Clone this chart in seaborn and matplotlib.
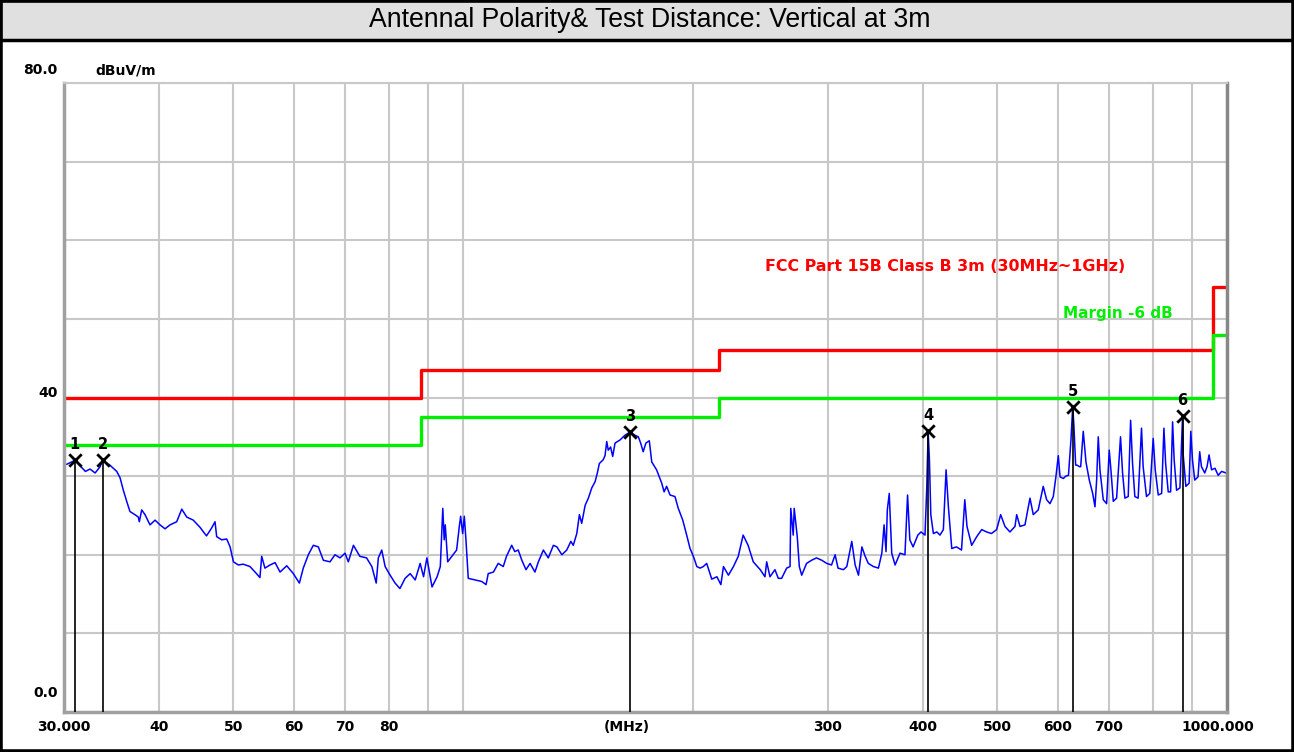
import matplotlib
matplotlib.use("Agg")
import matplotlib.pyplot as plt
import matplotlib.transforms as mtransforms
from matplotlib.patches import Rectangle
from matplotlib.ticker import NullFormatter
import numpy as np
import pandas as pd
import seaborn as sns

freq_mhz = [
    30.24, 31.0, 31.5, 32.0, 32.45, 32.95, 33.45, 33.7, 34.45, 35.17, 35.52, 35.88, 36.24, 36.6,
    37.15, 37.53, 37.65, 37.92, 38.3, 38.88, 39.48, 40.07, 40.68, 41.3, 42.14, 42.79, 43.43, 44.3,
    45.2, 46.1, 46.82, 47.3, 47.54, 48.26, 49.0, 49.5, 50.0, 50.75, 51.5, 52.56, 53.6, 54.16,
    54.45, 54.98, 55.83, 56.69, 57.55, 58.72, 59.9, 61.0, 61.72, 62.67, 63.62, 64.59, 65.57, 66.9,
    67.92, 68.95, 70.0, 70.7, 71.8, 73.2, 74.7, 75.9, 76.9, 77.4, 78.2, 79.0, 80.2, 81.4,
    82.6, 83.9, 85.2, 86.5, 87.8, 88.7, 89.6, 91.0, 92.4, 93.3, 94.0, 94.4, 94.7, 95.4,
    96.6, 98.0, 98.8, 99.2, 99.8, 100.3, 100.8, 101.5, 103.6, 105.7, 107.1, 107.8, 109.5, 111.1,
    112.8, 113.9, 115.7, 116.8, 118.0, 119.3, 120.8, 122.3, 124.1, 125.4, 127.3, 129.2, 131.2, 132.6,
    134.6, 136.6, 138.3, 139.3, 140.8, 141.9, 142.9, 144.4, 145.8, 147.3, 148.8, 149.8, 150.7, 152.5,
    153.3, 154.1, 154.8, 155.9, 156.9, 158.0, 160.4, 162.8, 165.3, 167.8, 169.5, 170.7, 172.0, 173.4,
    175.2, 176.5, 179.1, 181.9, 183.2, 184.6, 186.5, 189.3, 191.2, 193.8, 196.1, 198.1, 200.1, 202.2,
    204.2, 206.2, 208.3, 211.5, 214.8, 217.4, 219.1, 222.4, 225.8, 229.1, 232.5, 236.0, 239.7, 244.8,
    248.3, 249.6, 252.1, 255.9, 258.5, 261.1, 265.1, 267.8, 268.4, 270.4, 271.2, 273.7, 275.4, 277.4,
    281.5, 285.8, 290.0, 294.7, 299.1, 303.5, 306.8, 309.5, 314.6, 317.8, 322.6, 325.9, 329.2, 332.6,
    335.9, 339.1, 344.3, 349.6, 353.2, 355.6, 357.7, 359.1, 361.2, 363.9, 367.6, 373.1, 378.7, 381.7,
    384.3, 388.1, 393.7, 397.5, 402.3, 404.5, 406.1, 407.7, 409.4, 412.6, 416.9, 420.9, 425.2, 428.7,
    431.7, 436.1, 442.4, 449.1, 453.6, 456.6, 463.1, 470.2, 477.3, 484.4, 491.6, 499.3, 505.4, 512.0,
    519.7, 527.7, 530.4, 535.7, 543.8, 552.1, 557.6, 566.0, 574.6, 580.5, 586.4, 592.3, 597.3, 601.3,
    604.5, 610.6, 615.0, 620.0, 624.7, 628.0, 630.2, 633.6, 636.1, 641.1, 643.3, 648.3, 653.6, 660.2,
    667.0, 671.6, 675.0, 678.3, 681.8, 688.6, 695.6, 701.1, 704.7, 709.7, 716.9, 725.4, 729.9, 735.0,
    742.4, 747.8, 752.2, 757.4, 765.0, 772.8, 776.6, 784.5, 792.3, 800.5, 805.4, 812.8, 821.1, 826.8,
    831.1, 837.6, 843.7, 848.7, 852.7, 858.9, 867.7, 874.6, 876.3, 883.3, 892.1, 896.6, 901.1, 907.3,
    916.3, 921.0, 925.9, 935.1, 941.6, 947.3, 954.6, 964.4, 973.8, 983.9, 997.4,
]
level_dbuv = [
    31.5, 32.0, 31.3, 30.6, 30.9, 30.4, 31.2, 32.0, 31.4, 30.6, 29.8, 28.2, 26.8, 25.5,
    25.1, 24.8, 24.2, 25.7, 25.1, 23.8, 24.4, 23.8, 23.3, 23.8, 24.2, 25.8, 24.8, 24.4,
    23.5, 22.4, 23.4, 24.2, 22.3, 21.9, 22.0, 21.0, 19.1, 18.7, 18.8, 18.5, 17.6, 17.1,
    19.8, 18.3, 18.7, 19.0, 17.8, 18.6, 17.6, 16.4, 18.3, 20.0, 21.2, 21.0, 19.3, 19.1,
    20.0, 19.6, 20.2, 19.1, 21.2, 19.8, 19.6, 18.5, 16.4, 19.6, 20.6, 18.5, 17.4, 16.4,
    15.7, 17.0, 17.6, 16.8, 18.9, 17.2, 19.6, 15.9, 17.2, 18.5, 25.9, 21.9, 23.8, 19.1,
    19.8, 20.6, 23.6, 24.9, 22.7, 24.9, 21.9, 17.0, 16.8, 16.6, 16.2, 17.6, 17.8, 18.9,
    18.5, 19.8, 21.2, 20.4, 20.6, 19.3, 18.1, 18.9, 17.8, 19.1, 20.6, 19.6, 21.2, 21.0,
    20.0, 20.6, 21.7, 21.2, 22.7, 25.1, 24.0, 26.3, 27.2, 28.5, 29.3, 30.4, 31.6, 32.1,
    32.6, 34.4, 33.3, 33.7, 32.5, 34.2, 34.6, 35.2, 35.6, 35.2, 35.0, 34.2, 33.1, 34.2,
    34.5, 31.8, 30.8, 29.1, 28.0, 28.7, 27.6, 27.4, 25.9, 24.4, 22.5, 20.8, 19.8, 18.5,
    18.3, 18.5, 18.9, 16.9, 17.2, 16.2, 18.5, 17.4, 18.5, 19.8, 22.5, 21.2, 19.1, 18.1,
    17.2, 19.1, 17.2, 18.1, 17.0, 17.0, 18.3, 18.5, 25.9, 22.5, 25.9, 22.3, 18.5, 17.4,
    18.9, 19.3, 19.6, 19.3, 18.9, 18.7, 20.0, 18.3, 18.1, 18.5, 21.7, 18.7, 17.4, 21.0,
    19.8, 18.9, 18.5, 18.3, 20.2, 23.8, 20.4, 25.7, 27.8, 20.2, 18.7, 20.2, 20.0, 27.6,
    21.9, 21.0, 22.5, 22.9, 22.5, 28.7, 35.7, 32.1, 25.1, 22.7, 22.9, 22.5, 23.2, 30.8,
    26.1, 20.8, 21.0, 20.6, 27.0, 23.6, 21.2, 22.3, 23.2, 22.9, 22.7, 23.2, 25.1, 23.6,
    22.9, 23.6, 25.1, 23.6, 23.8, 27.2, 25.1, 25.7, 28.7, 27.0, 26.5, 27.4, 30.1, 32.6,
    29.9, 29.7, 30.0, 30.1, 34.6, 38.8, 36.5, 31.4, 31.4, 31.2, 31.2, 35.7, 31.8, 29.5,
    27.8, 26.1, 29.5, 35.0, 30.8, 27.0, 26.5, 33.3, 30.8, 26.8, 27.2, 35.0, 30.4, 27.2,
    27.4, 37.1, 31.6, 27.4, 27.2, 36.1, 31.2, 27.4, 27.8, 34.8, 30.8, 27.6, 27.8, 36.1,
    31.6, 28.0, 28.0, 36.9, 32.1, 28.2, 28.5, 37.6, 32.7, 28.7, 29.1, 35.7, 32.1, 29.5,
    29.9, 33.1, 31.2, 30.4, 31.2, 32.7, 30.8, 31.0, 30.1, 30.6, 30.4,
]

# ---- FCC Part 15B class B (3 m) limit and -6 dB margin ----
limit_freq = [30, 88, 216, 960, 1000]
limit_class_b = [40, 43.5, 46, 54, 54]
limit_margin = [34, 37.5, 40, 48, 48]

# ---- peak markers ----
marker_id = ["1", "2", "3", "4", "5", "6"]
marker_freq = [31.0, 33.7, 165.3, 406.1, 628.0, 874.6]
marker_level = [32.0, 32.0, 35.6, 35.7, 38.8, 37.6]

# ---- axis ticks ----
xtick_vals = [30, 40, 50, 60, 70, 80, 300, 400, 500, 600, 700, 1000]
xtick_labels = ["30.000", "40", "50", "60", "70", "80", "300", "400", "500", "600", "700", "1000.000"]
xgrid_vals = [90, 100, 200, 800, 900]

trace = pd.DataFrame({"freq": freq_mhz, "level": level_dbuv})
limits = pd.DataFrame({"freq": limit_freq, "limit": limit_class_b, "margin": limit_margin})
markers = pd.DataFrame({"freq": marker_freq, "level": marker_level, "id": marker_id})

sns.set_style("white")
plt.rcParams["font.family"] = ["DejaVu Sans"]
plt.rcParams["text.color"] = "black"
plt.rcParams["xtick.color"] = "black"
plt.rcParams["ytick.color"] = "black"

W, H = 1294, 752
fig = plt.figure(figsize=(W / 100, H / 100), dpi=100)
ax = fig.add_axes([64 / W, 1 - 712 / H, (1227 - 64) / W, (712 - 83) / H])
ax.set_xscale("log")

# data
sns.lineplot(data=limits, x="freq", y="limit", ax=ax, color="#ff0000", lw=2.4,
             drawstyle="steps-post", errorbar=None)
sns.lineplot(data=limits, x="freq", y="margin", ax=ax, color="#00ee00", lw=2.4,
             drawstyle="steps-post", errorbar=None)
sns.lineplot(data=trace, x="freq", y="level", ax=ax, color="#0000ff", lw=1.1, errorbar=None)

ax.vlines(markers["freq"], 0, markers["level"], color="black", lw=1.2, zorder=4)
sns.scatterplot(data=markers, x="freq", y="level", ax=ax, marker="x", s=80,
                color="black", linewidth=2, zorder=5)
for _, r in markers.iterrows():
    ax.annotate(r["id"], (r["freq"], r["level"]), xytext=(0, 6), textcoords="offset points",
                ha="center", va="bottom", fontsize=10.5, fontweight="bold", color="black")

ax.set_xlim(30, 1000)
ax.set_ylim(0, 80)
ax.set_xlabel("")
ax.set_ylabel("")

# ticks and grid
ax.set_xticks(xtick_vals)
ax.set_xticklabels(xtick_labels, fontsize=10, fontweight="bold")
ax.set_xticks(xgrid_vals, minor=True)
ax.xaxis.set_minor_formatter(NullFormatter())
ax.set_yticks(range(0, 81, 10))
ax.set_yticklabels([])
ax.grid(which="both", axis="x", color="#c8c8c8", lw=1.5)
ax.grid(which="major", axis="y", color="#c8c8c8", lw=1.5)
ax.set_axisbelow(True)
ax.tick_params(axis="both", which="both", length=0, pad=6)
last = ax.get_xticklabels()[-1]
last.set_transform(last.get_transform() + mtransforms.ScaledTranslation(-0.09, 0, fig.dpi_scale_trans))
ax.text(0.484, -0.0125, "(MHz)", transform=ax.transAxes, ha="center", va="top",
        fontsize=10, fontweight="bold")

for side in ["left", "bottom"]:
    ax.spines[side].set_color("#a0a0a0")
    ax.spines[side].set_linewidth(2.5)
ax.spines["right"].set_color("#888888")
ax.spines["right"].set_linewidth(2.5)
ax.spines["top"].set_color("#c8c8c8")
ax.spines["top"].set_linewidth(1.5)

# legend-style labels
ax.text(0.603, 0.7075, "FCC Part 15B Class B 3m (30MHz~1GHz)", transform=ax.transAxes,
        color="#ff0000", fontsize=11.4, fontweight="bold", va="center", ha="left")
ax.text(0.859, 0.633, "Margin -6 dB", transform=ax.transAxes,
        color="#00ee00", fontsize=11, fontweight="bold", va="center", ha="left")

# y labels
fig.text(57 / W, 1 - 70 / H, "80.0", ha="right", va="center", fontsize=10, fontweight="bold")
fig.text(95 / W, 1 - 70 / H, "dBuV/m", ha="left", va="center", fontsize=10, fontweight="bold")
fig.text(58 / W, 1 - 393 / H, "40", ha="right", va="center", fontsize=10, fontweight="bold")
fig.text(58 / W, 1 - 693 / H, "0.0", ha="right", va="center", fontsize=10, fontweight="bold")

# title bar and frame
fig.patches.append(Rectangle((0, 1 - 40 / H), 1, 40 / H, transform=fig.transFigure,
                             facecolor="#e0e0e0", edgecolor="black", lw=2.5, zorder=0))
fig.patches.append(Rectangle((0, 0), 1, 1, transform=fig.transFigure, fill=False,
                             edgecolor="black", lw=4, zorder=10))
fig.text(0.502, 1 - 20 / H, "Antennal Polarity& Test Distance: Vertical at 3m",
         ha="center", va="center", fontsize=19.2, family="Liberation Sans", color="black")

fig.savefig("out.png", dpi=100)
